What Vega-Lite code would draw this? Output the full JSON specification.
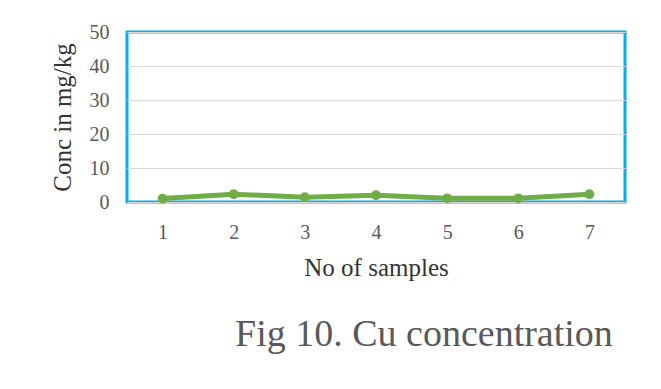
{
  "$schema": "https://vega.github.io/schema/vega-lite/v6.json",
  "width": 498,
  "height": 170,
  "autosize": "none",
  "padding": {"left": 127, "top": 32, "right": 36, "bottom": 187},
  "background": "white",
  "config": {
    "view": {"stroke": "#00B0F0", "strokeWidth": 3},
    "font": "Liberation Serif",
    "axis": {"labelFont": "Liberation Serif", "titleFont": "Liberation Serif"},
    "title": {"font": "Liberation Serif"}
  },
  "title": {
    "text": "Fig 10. Cu concentration",
    "orient": "bottom",
    "anchor": "start",
    "dx": 185,
    "offset": 36,
    "fontSize": 38,
    "font": "Liberation Serif",
    "fontWeight": "normal",
    "color": "#595959"
  },
  "data": {
    "values": [
      {"sample": "1", "conc": 1.0},
      {"sample": "2", "conc": 2.3},
      {"sample": "3", "conc": 1.4},
      {"sample": "4", "conc": 2.0},
      {"sample": "5", "conc": 1.1},
      {"sample": "6", "conc": 1.1},
      {"sample": "7", "conc": 2.3}
    ]
  },
  "mark": {"type": "line", "color": "#70AD47", "strokeWidth": 5, "point": {"filled": true, "color": "#70AD47", "size": 95, "opacity": 1}},
  "encoding": {
    "x": {
      "field": "sample",
      "type": "ordinal",
      "scale": {"paddingInner": 0, "paddingOuter": 0.5},
      "axis": {
        "title": "No of samples",
        "labelAngle": 0,
        "labelFontSize": 20,
        "labelColor": "#595959",
        "labelFont": "Liberation Serif",
        "labelPadding": 20,
        "ticks": false,
        "domain": false,
        "grid": false,
        "titleFontSize": 25,
        "titleFont": "Liberation Serif",
        "titleFontWeight": "normal",
        "titleColor": "#333333",
        "titlePadding": 13
      }
    },
    "y": {
      "field": "conc",
      "type": "quantitative",
      "scale": {"domain": [0, 50], "nice": false},
      "axis": {
        "title": "Conc in mg/kg",
        "values": [0, 10, 20, 30, 40, 50],
        "labelFontSize": 20,
        "labelColor": "#595959",
        "labelFont": "Liberation Serif",
        "labelPadding": 18,
        "ticks": false,
        "domain": false,
        "grid": true,
        "gridColor": "#D9D9D9",
        "gridWidth": 1.2,
        "titleFontSize": 25,
        "titleFont": "Liberation Serif",
        "titleFontWeight": "normal",
        "titleColor": "#333333",
        "titlePadding": 14
      }
    }
  }
}
